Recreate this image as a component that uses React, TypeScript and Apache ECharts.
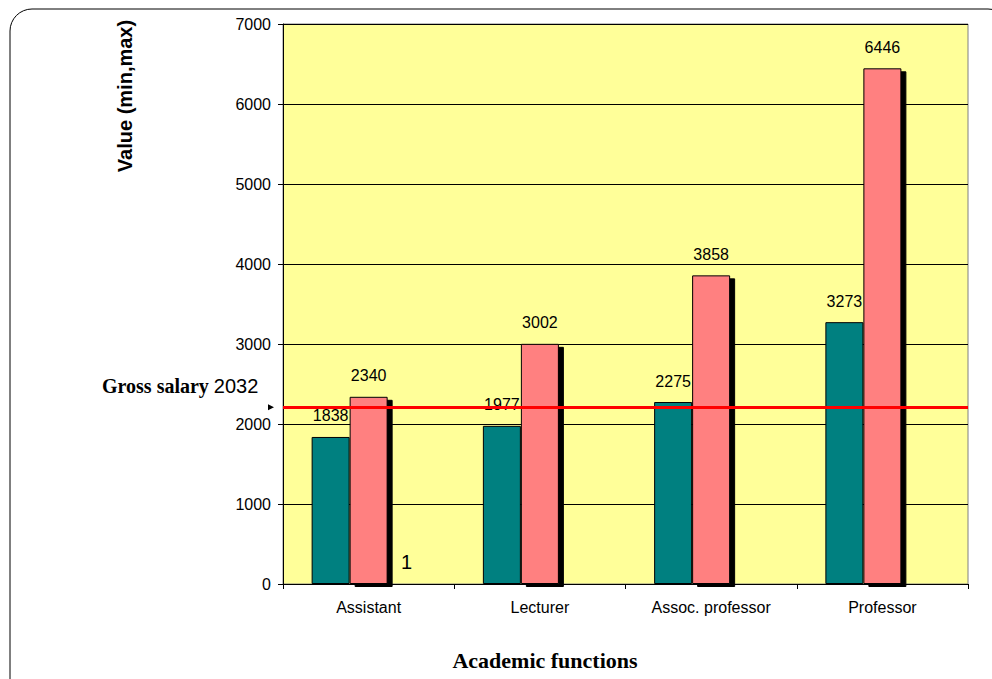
import React, { useEffect, useRef } from "react";
import * as echarts from "echarts";

const categories = ["Assistant", "Lecturer", "Assoc. professor", "Professor"];
const minValues = [1838, 1977, 2275, 3273];
const maxValues = [2340, 3002, 3858, 6446];
const thirdValues = [1, null, null, null];
const yTicks = [0, 1000, 2000, 3000, 4000, 5000, 6000, 7000];
const grossLineValue = 2210;
const grossLabelText = "Gross salary";
const grossLabelNumber = "2032";

export default function App() {
  const ref = useRef<HTMLDivElement>(null);
  useEffect(() => {
    if (!ref.current) return;
    const chart = echarts.init(ref.current, null, { renderer: "svg" });
    const labelFont = { fontFamily: "Liberation Sans, Arial, sans-serif", fontSize: 16, color: "#000" };
    chart.setOption({
      animation: false,
      grid: {
        left: 283,
        top: 24,
        right: 24,
        bottom: 95,
        show: true,
        backgroundColor: "#FFFF99",
        borderColor: "#808080",
        borderWidth: 1,
      },
      xAxis: {
        type: "category",
        data: categories,
        axisLine: { lineStyle: { color: "#000", width: 1 } },
        axisTick: { show: true, alignWithLabel: false, length: 5, lineStyle: { color: "#000" } },
        axisLabel: { ...labelFont, margin: 15 },
        splitLine: { show: false },
      },
      yAxis: {
        type: "value",
        min: yTicks[0],
        max: yTicks[yTicks.length - 1],
        interval: 1000,
        axisLine: { show: true, lineStyle: { color: "#000", width: 1 } },
        axisTick: { show: true, length: 5, lineStyle: { color: "#000" } },
        axisLabel: { ...labelFont, margin: 12, formatter: (v: number) => String(v) },
        splitLine: { show: true, lineStyle: { color: "#000", width: 1 } },
      },
      series: [
        {
          type: "bar",
          data: minValues,
          barWidth: 38,
          barGap: "0%",
          itemStyle: { color: "#008080", borderColor: "#000", borderWidth: 1 },
          label: { show: true, position: "top", distance: 13, ...labelFont },
          z: 3,
        },
        {
          type: "bar",
          data: maxValues,
          barWidth: 38,
          barGap: "0%",
          itemStyle: {
            color: "#FF8080",
            borderColor: "#000",
            borderWidth: 1,
            shadowColor: "#000",
            shadowBlur: 0,
            shadowOffsetX: 5,
            shadowOffsetY: 3,
          },
          label: { show: true, position: "top", distance: 13, ...labelFont },
          z: 2,
          markLine: {
            silent: true,
            symbol: "none",
            label: { show: false },
            lineStyle: { color: "#FF0000", width: 3, type: "solid" },
            data: [{ yAxis: grossLineValue }],
            z: 5,
          },
        },
        {
          type: "bar",
          data: thirdValues,
          barWidth: 38,
          barGap: "0%",
          itemStyle: { color: "transparent" },
          label: {
            show: true,
            position: "top",
            distance: 12,
            fontFamily: "Liberation Sans, Arial, sans-serif",
            fontSize: 20,
            color: "#000",
            formatter: () => "1",
          },
        },
      ],
    });
    const lineY = chart.convertToPixel({ yAxisIndex: 0 }, grossLineValue) as number;
    chart.setOption({
      graphic: [
        {
          type: "rect",
          shape: { x: 10, y: 9, width: 1000, height: 700, r: 22 },
          style: { fill: "none", stroke: "#000", lineWidth: 1 },
          silent: true,
          z: -1,
        },
        {
          type: "text",
          x: 125,
          y: 96,
          rotation: Math.PI / 2,
          style: {
            text: "Value (min,max)",
            font: "bold 20px Liberation Sans, Arial, sans-serif",
            fill: "#000",
            align: "center",
            verticalAlign: "middle",
          },
        },
        {
          type: "text",
          x: 545,
          y: 660,
          style: {
            text: "Academic functions",
            font: "bold 22px Liberation Serif, Times New Roman, serif",
            fill: "#000",
            align: "center",
            verticalAlign: "middle",
          },
        },
        {
          type: "text",
          x: 102,
          y: lineY - 21,
          style: {
            text: "{a|" + grossLabelText + " }{b|" + grossLabelNumber + "}",
            verticalAlign: "middle",
            rich: {
              a: { font: "bold 20px Liberation Serif, Times New Roman, serif", fill: "#000" },
              b: { font: "20px Liberation Sans, Arial, sans-serif", fill: "#000" },
            },
          },
        },
        {
          type: "polygon",
          shape: { points: [[268, lineY - 3], [274, lineY], [268, lineY + 3]] },
          style: { fill: "#000" },
        },
      ],
    });
    return () => chart.dispose();
  }, []);
  return <div ref={ref} style={{ width: 992, height: 679, position: "absolute", left: 0, top: 0 }} />;
}
